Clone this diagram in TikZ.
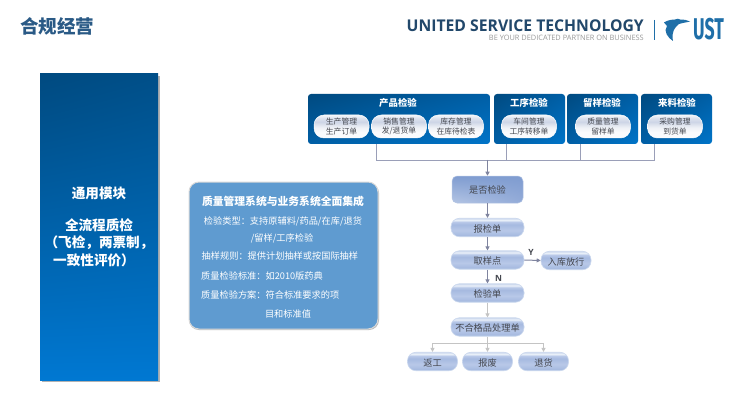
\documentclass[tikz,border=0pt]{standalone}
\usepackage{fontspec}
\setmainfont{Noto Sans CJK SC}
\newfontfamily\latinf{Open Sans}
\newfontfamily\ustf{Fira Sans}
\usetikzlibrary{arrows.meta,shadings,calc}
\definecolor{navy}{HTML}{004A80}
\definecolor{midblue}{HTML}{0074C8}
\definecolor{cata}{HTML}{005FA6}
\definecolor{botblue}{HTML}{0078D2}
\definecolor{titleblue}{HTML}{2A5A86}
\definecolor{panelblue}{HTML}{5F9BD0}
\definecolor{linegray}{HTML}{9A9FB8}
\definecolor{arrowgray}{HTML}{7F849F}
\definecolor{lightline}{HTML}{C4C4C4}
\definecolor{inktext}{HTML}{44474F}
\definecolor{logoblue}{HTML}{1F6FA8}
\definecolor{pb}{HTML}{FAFBFD}
\definecolor{pc}{HTML}{EEF1F6}
\definecolor{pd}{HTML}{CDD5E6}
\definecolor{pe}{HTML}{DCE2EE}
\definecolor{pf}{HTML}{F4F6FA}
\definecolor{fa}{HTML}{CBD8EE}
\definecolor{fc}{HTML}{B8C8E8}
\definecolor{fd}{HTML}{A6BAE0}
\definecolor{fe}{HTML}{EAF0F9}
\definecolor{qa}{HTML}{7F9CD0}
\definecolor{qb}{HTML}{93ABD8}
\definecolor{qc}{HTML}{B4C5E4}
\pgfdeclareverticalshading{pillshade}{100bp}{
  color(0bp)=(pb); color(25bp)=(pb); color(38bp)=(pb); color(48bp)=(pc); color(60bp)=(pd); color(68bp)=(pe); color(75bp)=(pf); color(100bp)=(pf)}
\pgfdeclareverticalshading{flowshade}{100bp}{
  color(0bp)=(fa); color(25bp)=(fa); color(29bp)=(fd); color(42bp)=(fc); color(58bp)=(fd); color(65bp)=(fc); color(70bp)=(fe); color(75bp)=(fa); color(100bp)=(fa)}
\tikzset{
  x=1pt,y=-1pt,
  catbox/.style={rounded corners=3pt,upper left=navy,upper right=cata,lower left=cata,lower right=midblue,minimum height=50pt,inner sep=0pt},
  cattitle/.style={text=white,font=\bfseries\fontsize{9.4}{9.4}\selectfont,inner sep=0pt},
  subpill/.style={rounded corners=10pt,shading=pillshade,draw=white,line width=.5pt,minimum width=55pt,minimum height=23pt,inner sep=0pt,
    align=center,text=inktext,font=\fontsize{7.8}{9.6}\selectfont},
  flowpill/.style={rounded corners=8.5pt,shading=flowshade,draw=fa,line width=.6pt,minimum height=18.5pt,inner sep=0pt,
    text height=9pt,text depth=0pt,text=inktext,font=\fontsize{9.2}{9.2}\selectfont},
  conn/.style={linegray,line width=.9pt},
  arr/.style={arrowgray,line width=1pt,-{Triangle[width=4pt,length=4pt]}},
  larr/.style={lightline,line width=1pt,-{Triangle[width=4pt,length=4pt]}},
  lline/.style={lightline,line width=1pt},
  paneltext/.style={text=white,inner sep=0pt,font=\fontsize{9.2}{9.2}\selectfont},
  lefttext/.style={text=white,inner sep=0pt,font=\bfseries\fontsize{13.6}{13.6}\selectfont},
  yn/.style={inner sep=0pt,font=\latinf\bfseries\fontsize{8.5}{8.5}\selectfont}
}
\begin{document}
\begin{tikzpicture}
\useasboundingbox (0,0) rectangle (739,417);
\fill[white] (0,0) rectangle (739,417);
\node[inner sep=0pt,text=titleblue,font=\bfseries\fontsize{18.5}{18.5}\selectfont] (title) at (57,26) {合规经营};
% logo
\node[inner sep=0pt,anchor=east,xscale=.97,text=titleblue!80!black,font=\latinf\bfseries\fontsize{16.2}{16.2}\selectfont] (brand) at (644,26) {UNITED SERVICE TECHNOLOGY};
\node[inner sep=0pt,anchor=east,text=gray!80,font=\latinf\fontsize{7.4}{7.4}\selectfont] (slogan) at (644,38) {BE YOUR DEDICATED PARTNER ON BUSINESS};
\draw[logoblue,line width=.7pt] (654.5,20) -- (654.5,40);
\fill[logoblue] (664,22.5) .. controls (668,20) and (672,19.5) .. (675,19.5) .. controls (677,18.5) and (679,18.5) .. (680,19.5)
  .. controls (684,19.5) and (687,20) .. (690,21.5) .. controls (686,22.5) and (682,23) .. (679,24)
  .. controls (675,27) and (671,32) .. (673,41) .. controls (668,38) and (663,31) .. (667,26) -- cycle;
\node[inner sep=0pt,anchor=west,text=logoblue,font=\ustf\bfseries\fontsize{30}{30}\selectfont,xscale=.59] (ust) at (693,29.5) {UST};
% left panel
\fill[gray!60] (41.5,76) rectangle (159.5,381.5);
\shade[upper left=navy,upper right=navy!88!midblue,lower left=botblue,lower right=botblue] (40,74) rectangle (158,380);
\node[lefttext] (l1) at (99,193) {通用模块};
\node[lefttext] (l2) at (99,225) {全流程质检};
\node[lefttext] (l3) at (99,243) {（飞检，两票制，};
\node[lefttext] (l4) at (94,260) {一致性评价）};
% middle panel
\fill[rounded corners=10pt,gray!55] (189,183) rectangle (379,330);
\draw[rounded corners=10pt,fill=panelblue,draw=gray!30,line width=1pt] (189,182) rectangle (378,329);
\node[paneltext,font=\bfseries\fontsize{10.8}{10.8}\selectfont] (m0) at (283,201) {质量管理系统与业务系统全面集成};
\node[paneltext] (m1) at (283,221) {检验类型：支持原辅料/药品/在库/退货};
\node[paneltext] (m2) at (282,238) {/留样/工序检验};
\node[paneltext,anchor=west] (m3) at (201.5,256) {抽样规则：提供计划抽样或按国际抽样};
\node[paneltext,anchor=west] (m4) at (201,276) {质量检验标准：如2010版药典};
\node[paneltext,anchor=west] (m5) at (201,295) {质量检验方案：符合标准要求的项};
\node[paneltext] (m6) at (288,314) {目和标准值};
% category boxes
\node[catbox,minimum width=182pt] (c1) at (399,119) {};
\node[catbox,minimum width=71pt] (c2) at (529.5,119) {};
\node[catbox,minimum width=71pt] (c3) at (602.5,119) {};
\node[catbox,minimum width=71pt] (c4) at (676.5,119) {};
\node[cattitle] (t1) at (398,103) {产品检验};
\node[cattitle] (t2) at (529,103) {工序检验};
\node[cattitle] (t3) at (602,103) {留样检验};
\node[cattitle] (t4) at (677,103) {来料检验};
\node[subpill] (p1) at (341.5,126.5) {生产管理\\生产订单};
\node[subpill] (p2) at (399,126.5) {销售管理\\发/退货单};
\node[subpill] (p3) at (456,126.5) {库存管理\\在库待检表};
\node[subpill] (p4) at (529,126.5) {车间管理\\工序转移单};
\node[subpill] (p5) at (603,126.5) {质量管理\\留样单};
\node[subpill] (p6) at (675,126.5) {采购管理\\到货单};
% flow
\node[rounded corners=5pt,draw=qc,line width=.5pt,minimum width=71pt,minimum height=27pt,inner sep=0pt,
  upper left=qa,upper right=qa,lower left=qc,lower right=qb,
  text=inktext,font=\fontsize{9.2}{9.2}\selectfont] (q) at (487.5,189.5) {是否检验};
\node[flowpill,minimum width=73pt] (f1) at (487.5,227.5) {报检单};
\node[flowpill,minimum width=73pt] (f2) at (487.5,260) {取样点};
\node[flowpill,minimum width=73pt] (f3) at (487.5,293) {检验单};
\node[flowpill,minimum width=73pt] (f4) at (487.5,327) {不合格品处理单};
\node[flowpill,minimum width=50pt] (r) at (566,260.5) {入库放行};
\node[flowpill,minimum width=50pt] (e1) at (432.5,361.5) {返工};
\node[flowpill,minimum width=50pt] (e2) at (487.5,361.5) {报废};
\node[flowpill,minimum width=50pt] (e3) at (543.5,361.5) {退货};
% connectors
\coordinate (bus) at (487.5,160);
\coordinate (b4) at (654,160);
\coordinate (b1) at (376,160);
\draw[conn] (c1.south -| b1) -- (b1) -- (b4) -- (c4.south -| b4);
\coordinate (b2) at (506,160);
\coordinate (b3) at (580,160);
\draw[conn] (c2.south -| b2) -- (b2);
\draw[conn] (c3.south -| b3) -- (b3);
\draw[arr] (bus) -- (q.north);
\draw[arr] (q.south) -- (f1.north);
\draw[arr] (f1.south) -- (f2.north);
\draw[arr] (f2.south) -- (f3.north);
\draw[arr] (f2.east) -- (r.west);
\draw[larr] (f3.south) -- (f4.north);
\coordinate (split) at (487.5,343);
\draw[lline] (f4.south) -- (split);
\draw[larr] (split) -- (e2.north);
\draw[larr] (split) -| (e1.north);
\draw[larr] (split) -| (e3.north);
\node[yn,text=inktext] (ylab) at (531,252) {Y};
\node[yn,text=inktext] (nlab) at (498.5,278) {N};
\end{tikzpicture}
\end{document}
